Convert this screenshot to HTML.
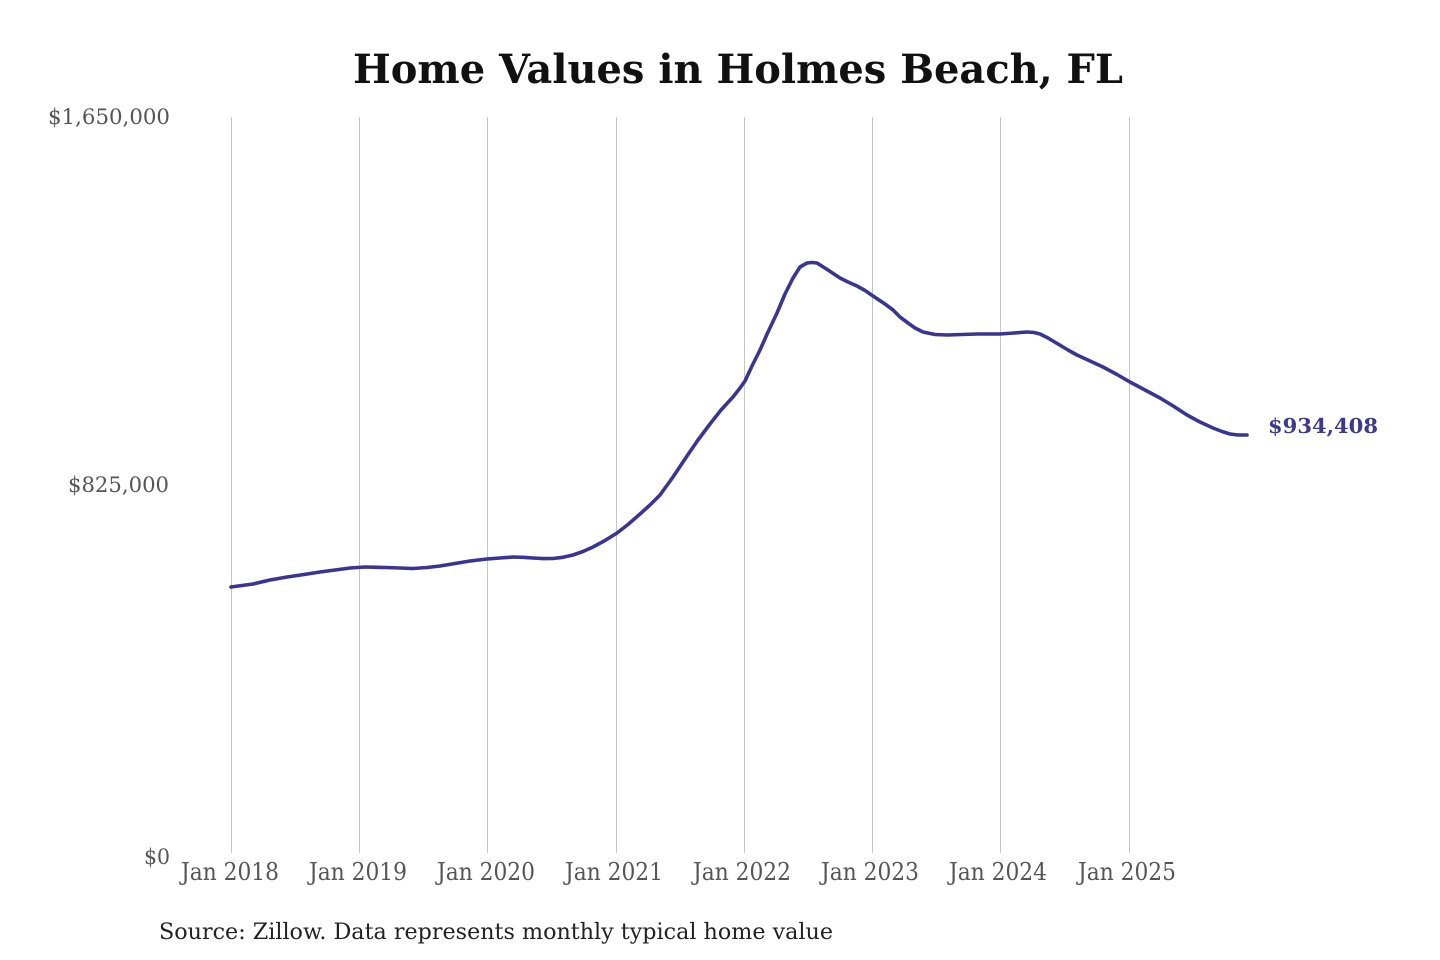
<!DOCTYPE html>
<html>
<head>
<meta charset="utf-8">
<style>
  html, body { margin: 0; padding: 0; background: #ffffff; }
  svg { display: block; }
  text { font-family: "DejaVu Serif", "Liberation Serif", serif; }
</style>
</head>
<body>
<svg width="1440" height="960" viewBox="0 0 1440 960" xmlns="http://www.w3.org/2000/svg">
  <rect x="0" y="0" width="1440" height="960" fill="#ffffff"/>

  <!-- Title -->
  <text x="353" y="83" font-size="40" font-weight="bold" fill="#111111" textLength="770" lengthAdjust="spacingAndGlyphs">Home Values in Holmes Beach, FL</text>

  <!-- Vertical gridlines -->
  <g stroke="#c6c6c6" stroke-width="1">
    <line x1="231.5" y1="117" x2="231.5" y2="853"/>
    <line x1="359.5" y1="117" x2="359.5" y2="853"/>
    <line x1="487.5" y1="117" x2="487.5" y2="853"/>
    <line x1="616.5" y1="117" x2="616.5" y2="853"/>
    <line x1="744.5" y1="117" x2="744.5" y2="853"/>
    <line x1="872.5" y1="117" x2="872.5" y2="853"/>
    <line x1="1000.5" y1="117" x2="1000.5" y2="853"/>
    <line x1="1129.5" y1="117" x2="1129.5" y2="853"/>
  </g>

  <!-- Y axis labels -->
  <g font-size="21" fill="#555555" text-anchor="end">
    <text x="170" y="124" textLength="122" lengthAdjust="spacingAndGlyphs">$1,650,000</text>
    <text x="169" y="492" textLength="101" lengthAdjust="spacingAndGlyphs">$825,000</text>
    <text x="170" y="864" textLength="26" lengthAdjust="spacingAndGlyphs">$0</text>
  </g>

  <!-- X axis labels -->
  <g font-size="24.5" fill="#555555" text-anchor="middle">
    <text x="230" y="880" textLength="98" lengthAdjust="spacingAndGlyphs">Jan 2018</text>
    <text x="358" y="880" textLength="98" lengthAdjust="spacingAndGlyphs">Jan 2019</text>
    <text x="486" y="880" textLength="98" lengthAdjust="spacingAndGlyphs">Jan 2020</text>
    <text x="614" y="880" textLength="98" lengthAdjust="spacingAndGlyphs">Jan 2021</text>
    <text x="742" y="880" textLength="98" lengthAdjust="spacingAndGlyphs">Jan 2022</text>
    <text x="870" y="880" textLength="98" lengthAdjust="spacingAndGlyphs">Jan 2023</text>
    <text x="998" y="880" textLength="98" lengthAdjust="spacingAndGlyphs">Jan 2024</text>
    <text x="1127" y="880" textLength="98" lengthAdjust="spacingAndGlyphs">Jan 2025</text>
  </g>

  <!-- Data line -->
  <polyline fill="none" stroke="#3a3592" stroke-width="3.6" stroke-linejoin="round" stroke-linecap="round"
    points="231,587 253,584 270,580 287,577 304,574.5 320,572 335,570 350,568 365,567 385,567.5 400,568 413,568.5 427,567.5 440,566 455,563.5 470,561 487,559 500,558 513,557 523,557.3 533,558 543,558.6 553,558.5 563,557.3 573,555 583,551.5 593,547 605,540.5 617,533 628,524.5 640,514 650,505 660,495 673,477 687,456 698,440 710,424 721,410 733,397 740,388 745,381 752,366 760,350 768,332 777,313 785,294 793,278 800,267 807,263 812,262.5 817,263 828,270 840,278 848,282 857,286 865,290.5 873,296 885,304 893,310 900,317 908,323 915,328 923,332 935,334.5 947,335 962,334.5 977,334 990,334 1000,334 1014,333 1027,332 1034,332.5 1040,334 1048,338 1058,344 1068,350 1077,355 1090,361 1103,367 1117,374.5 1130,382 1145,390 1160,398 1174,406.5 1187,415 1200,422 1213,428 1222,431.5 1230,434 1238,435 1247,435"/>

  <!-- End label -->
  <text x="1268" y="433" font-size="20.5" font-weight="bold" fill="#3d3a8e" textLength="110" lengthAdjust="spacingAndGlyphs">$934,408</text>

  <!-- Source -->
  <text x="159" y="939" font-size="22.5" fill="#222222" textLength="674" lengthAdjust="spacingAndGlyphs">Source: Zillow. Data represents monthly typical home value</text>
</svg>
</body>
</html>
